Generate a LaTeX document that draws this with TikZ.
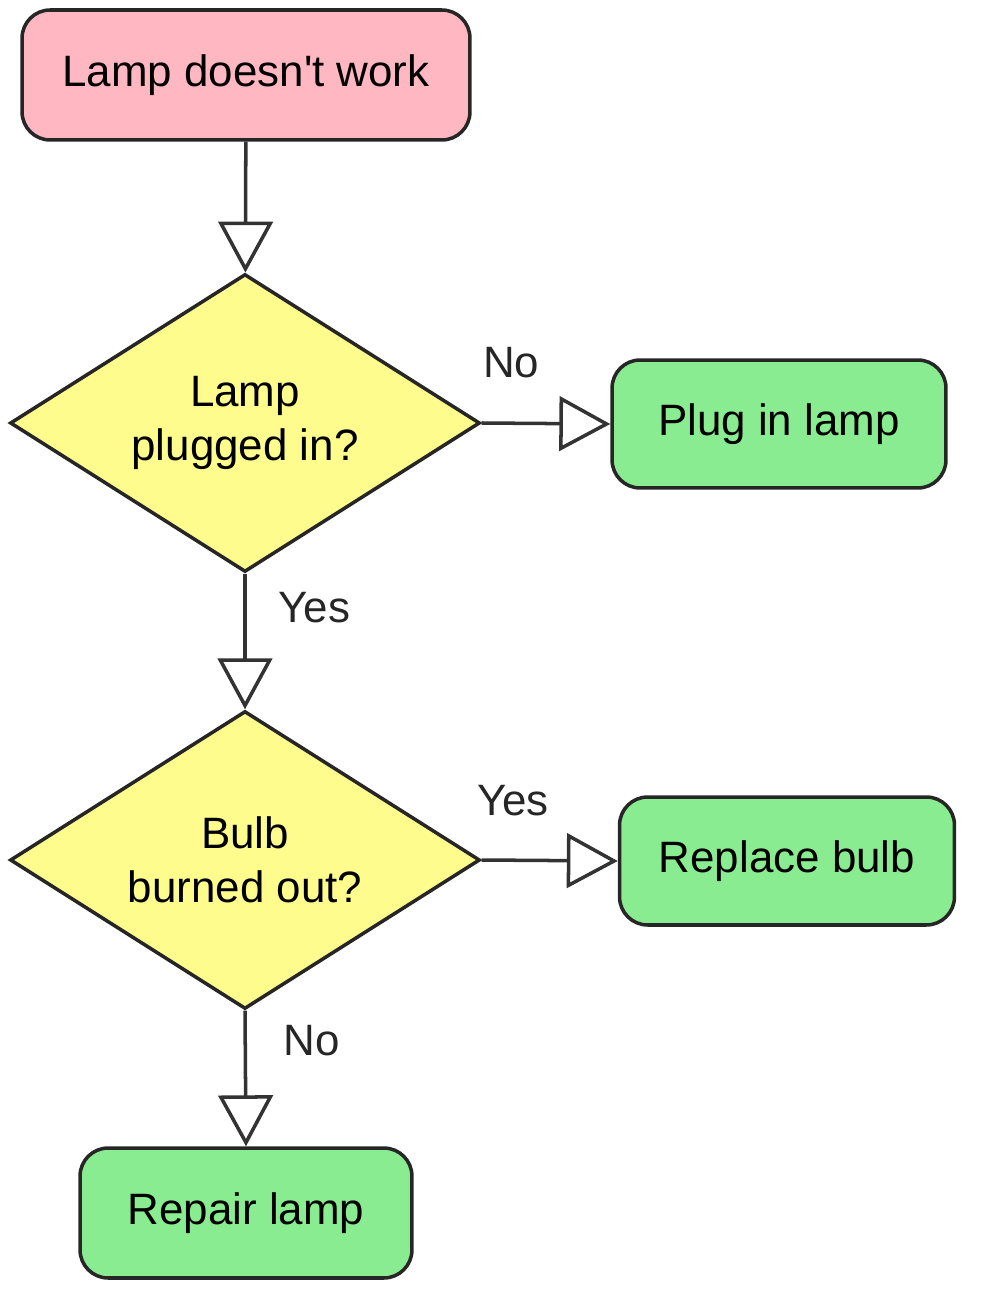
\documentclass[tikz,border=0pt]{standalone}
\usepackage{fontspec}
\setmainfont{Liberation Sans}
\usetikzlibrary{arrows.meta,shapes.geometric,positioning}

\definecolor{startpink}{RGB}{255,184,194}
\definecolor{askyellow}{RGB}{255,252,142}
\definecolor{dogreen}{RGB}{138,236,144}

\begin{document}
\begin{tikzpicture}[
  x=0.02cm,
  y=-0.02cm,
  box/.style={
    rectangle,
    rounded corners=16pt,
    draw=black!85,
    line width=2pt,
    inner sep=0pt,
    font=\fontsize{25}{31}\selectfont
  },
  startbox/.style={box,fill=startpink},
  actionbox/.style={box,fill=dogreen},
  decision/.style={
    diamond,
    aspect=1.6,
    draw=black!85,
    fill=askyellow,
    line width=2pt,
    inner sep=0pt,
    align=center,
    minimum width=9.4cm,
    minimum height=5.96cm,
    font=\fontsize{25}{31}\selectfont
  },
  flow/.style={
    line width=2pt,
    black!80,
    -{Triangle[open,length=29pt,width=31pt]}
  },
  lbl/.style={
    inner sep=0pt,
    text=black!85,
    font=\fontsize{25}{31}\selectfont
  }
]

% Frame of the picture
\useasboundingbox (0,0) rectangle (982,1293);

% Start
\node[startbox,minimum width=8.96cm,minimum height=2.6cm]
  (start) at (246,75) {Lamp doesn\textquotesingle t work};

% Decisions
\node[decision] (plugged) at (245,423) {Lamp\\plugged in?};
\node[decision] (burned) at (245,860) {Bulb\\burned out?};

% Actions
\node[actionbox,minimum width=6.68cm,minimum height=2.56cm]
  (plugin) at (779,424) {Plug in lamp};
\node[actionbox,minimum width=6.7cm,minimum height=2.56cm]
  (replace) at (787,861) {Replace bulb};
\node[actionbox,minimum width=6.64cm,minimum height=2.6cm]
  (repair) at (246,1213) {Repair lamp};

% Connectors
\draw[flow] (start) -- (plugged);

\draw[flow] (plugged.east) --
  node[lbl,pos=0.23,above=25pt] (noplug) {No} (plugin.west);

\draw[flow] (plugged.south) --
  node[lbl,pos=0.25,right=18pt] (yesplug) {Yes} (burned.north);

\draw[flow] (burned.east) --
  node[lbl,pos=0.23,above=24pt] (yesbulb) {Yes} (replace.west);

\draw[flow] (burned.south) --
  node[lbl,pos=0.22,right=21pt] (nobulb) {No} (repair.north);

\end{tikzpicture}
\end{document}
